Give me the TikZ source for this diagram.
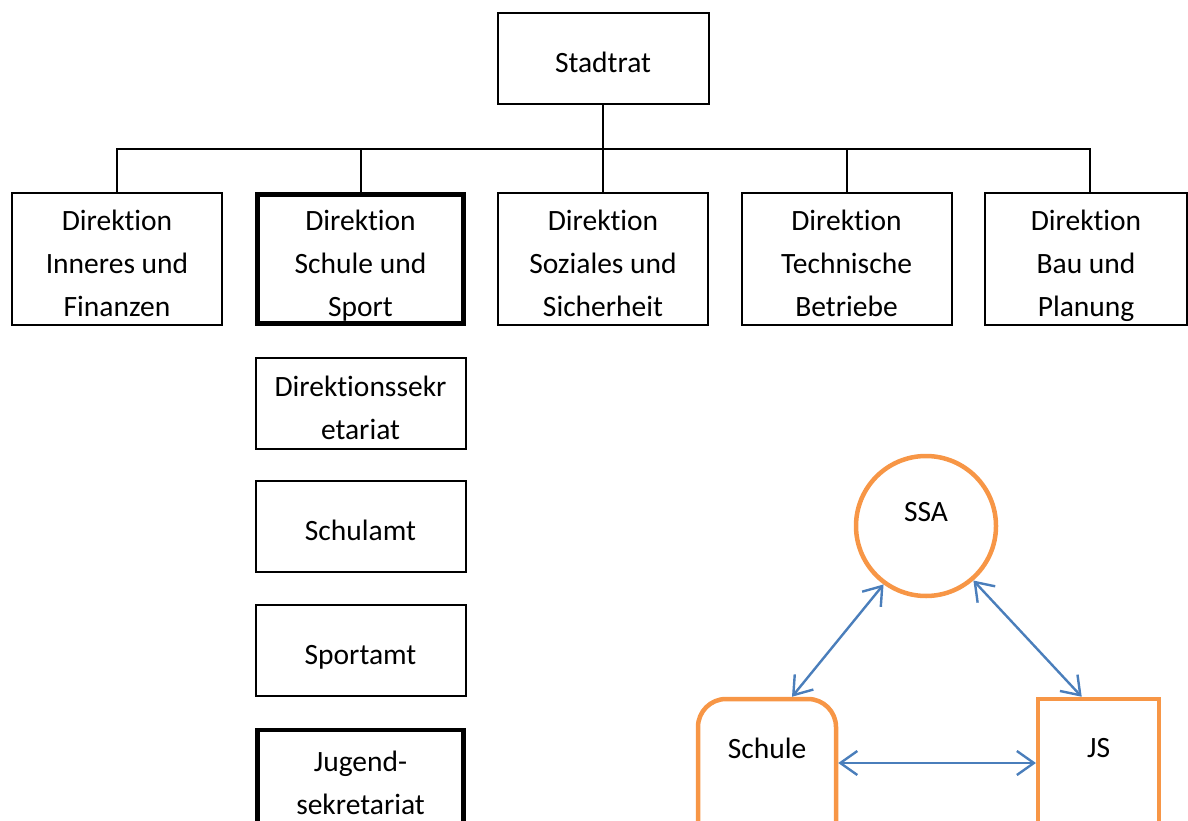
\documentclass[tikz,border=0pt]{standalone}
\usepackage{fontspec}
\setmainfont{Carlito}[Ligatures=NoCommon]
\usetikzlibrary{arrows.meta}

% strut that fixes the height of the first line and the depth of the last one
\newcommand\orgstrut{\rule[-7pt]{0pt}{43pt}}

\definecolor{accentorange}{HTML}{F79646}
\definecolor{linkblue}{HTML}{4A7EBB}

\tikzset{
  orgtext/.style={font=\fontsize{29.5}{43}\selectfont, text=black},
  orgbox/.style={orgtext, draw=black, line width=2pt, align=center, inner sep=0pt,
    execute at begin node=\orgstrut, execute at end node=\orgstrut},
  keybox/.style={orgbox, line width=4.7pt},
  rowbox/.style={minimum width=210pt, minimum height=131pt},
  colbox/.style={minimum width=210pt, minimum height=91pt},
  link/.style={draw=black, line width=2pt},
  roundbox/.style={draw=accentorange, line width=4.5pt, rounded corners=28pt, inner sep=0pt},
  plainbox/.style={draw=accentorange, line width=4.5pt, inner sep=0pt},
  ringbox/.style={circle, draw=accentorange, line width=4.5pt, inner sep=0pt, minimum size=140pt},
  both/.style={draw=linkblue, line width=2.4pt,
    arrows={Straight Barb[length=17pt,width=24pt]-Straight Barb[length=17pt,width=24pt]}}
}

\begin{document}
\begin{tikzpicture}[x=1pt,y=-1pt]
\useasboundingbox (0,0) rectangle (1188,821);
\clip (0,0) rectangle (1188,821);

% top level
\node[orgbox, minimum width=211pt, minimum height=91pt] (rat) at (603,58.5) {Stadtrat};

% directorates
\node[orgbox, rowbox] (d1) at (117,259) {\orgstrut Direktion\\Inneres und\\Finanzen};
\node[keybox, rowbox, minimum width=206pt, minimum height=128pt] (d2) at (360.5,259) {\orgstrut Direktion\\Schule und\\Sport};
\node[orgbox, rowbox] (d3) at (603,259) {\orgstrut Direktion\\Soziales und\\Sicherheit};
\node[orgbox, rowbox] (d4) at (846.5,259) {\orgstrut Direktion\\Technische\\Betriebe};
\node[orgbox, rowbox, minimum width=202pt] (d5) at (1086,259) {\orgstrut Direktion\\Bau und\\Planung};

% bus line
\coordinate (bus) at (603,149.5);
\draw[link] (rat.south) -- (d3.north);
\draw[link] (d1.north) -- (d1.north |- bus) -- ([xshift=4pt]d5.north |- bus) -- ([xshift=4pt]d5.north);
\draw[link] (d2.north) -- (d2.north |- bus);
\draw[link] (d4.north) -- (d4.north |- bus);

% offices below Schule und Sport
\node[orgbox, colbox] (sek) at (360.5,403) {\orgstrut Direktionssekr\\etariat};
\node[orgbox, colbox] (amt) at (360.5,526) {Schulamt};
\node[orgbox, colbox] (spo) at (360.5,650) {Sportamt};
\node[keybox, minimum width=206pt, minimum height=96pt] (jug) at (360.5,778) {\orgstrut Jugend-\\sekretariat};

% triangle of partners
\node[ringbox] (ssa) at (926,526) {};
\node[orgtext] (ssaT) at (926,512) {SSA};
\node[roundbox, minimum width=138pt, minimum height=250pt] (schule) at (767,824) {};
\node[orgtext] (schuleT) at (767,748) {Schule};
\node[plainbox, minimum width=121pt, minimum height=250pt] (js) at (1098.7,824) {};
\node[orgtext] (jsT) at (1098.7,748) {JS};

\draw[both] (ssa.234) -- ([xshift=25pt]schule.north);
\draw[both] (ssa.311) -- ([xshift=-17pt]js.north);
\draw[both] ([yshift=61pt]schule.east) -- ([yshift=61pt]js.west);
\end{tikzpicture}
\end{document}
